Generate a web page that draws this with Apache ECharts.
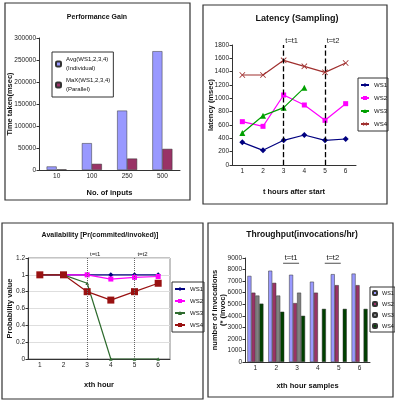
<!DOCTYPE html>
<html>
<head>
<meta charset="utf-8">
<script src="https://cdn.jsdelivr.net/npm/echarts@6/dist/echarts.min.js"></script>
<style>
html, body { margin: 0; padding: 0; background: #fff; }
#chart { width: 395px; height: 401px; }
</style>
</head>
<body>
<div id="chart"></div>
<script>
// performance gain
const perfCats = ['10', '100', '250', '500'];
const perfAvg = [8000, 61000, 135000, 270000];
const perfMax = [1500, 14000, 26000, 48000];

// hours 1..6, used by the three other panels
const hours = ['1', '2', '3', '4', '5', '6'];

// latency (msec)
const latWS1 = [340, 220, 370, 450, 370, 390];
const latWS2 = [650, 580, 1050, 900, 670, 920];
const latWS3 = [480, 740, 860, 1160, null, null];
const latWS4 = [1350, 1350, 1570, 1480, 1390, 1530];

// availability
const availWS1 = [1, 1, 1, 1, 1, 1];
const availWS2 = [1, 1, 1, 0.95, 0.97, 0.98];
const availWS3 = [1, 1, 0.9, 0, 0, 0];
const availWS4 = [1, 1, 0.8, 0.7, 0.8, 0.9];

// throughput
const thrWS1 = [7450, 7900, 7550, 6950, 7600, 7650];
const thrWS2 = [6000, 6850, 5100, 6000, 6650, 6650];
const thrWS3 = [5750, 5750, 6000, null, null, null];
const thrWS4 = [5050, 4350, 4000, 4600, 4600, 4600];

const FONT = '"Liberation Sans", sans-serif';
const tickLabel = { fontSize: 6.5, color: '#222', fontFamily: FONT, margin: 3 };
const axLine = { lineStyle: { color: '#333', width: 1 } };
const axTick = { length: 2.5, lineStyle: { color: '#333' } };
const nameStyle = { fontSize: 7.5, fontWeight: 'bold', color: '#111', fontFamily: FONT };

const CROSS = 'path://M0,1L1,0L5,4L9,0L10,1L6,5L10,9L9,10L5,6L1,10L0,9L4,5Z';
const shortName = n => n.split(' ')[1];

function catAxis(gi, data, name, gap) {
  return {
    gridIndex: gi, type: 'category', data: data,
    name: name, nameLocation: 'middle', nameGap: gap, nameTextStyle: nameStyle,
    nameMoveOverlap: false,
    axisLine: axLine, axisTick: axTick, axisLabel: tickLabel
  };
}
function valAxis(gi, max, interval, name, gap, split) {
  return {
    gridIndex: gi, type: 'value', min: 0, max: max, interval: interval,
    name: name, nameLocation: 'middle', nameGap: gap, nameRotate: 90,
    nameMoveOverlap: false,
    nameTextStyle: Object.assign({}, nameStyle, { lineHeight: 8 }),
    axisLine: Object.assign({ show: true }, axLine), axisTick: Object.assign({ show: true }, axTick),
    axisLabel: Object.assign({ formatter: v => String(v) }, tickLabel),
    splitLine: { show: !!split, lineStyle: { color: '#dedede', width: 1 } }
  };
}
function legendBox(names, left, top, extra) {
  return Object.assign({
    data: names, orient: 'vertical', left: left, top: top,
    borderColor: '#333', borderWidth: 1, padding: [4, 1, 4, 2], itemGap: 7,
    itemWidth: 8, itemHeight: 5, formatter: shortName,
    textStyle: { fontSize: 6, color: '#111', fontFamily: FONT }
  }, extra || {});
}
function lineSeries(name, data, gi, color, symbol, size, extra) {
  return Object.assign({
    type: 'line', name: name, data: data, xAxisIndex: gi, yAxisIndex: gi,
    symbol: symbol, symbolSize: size, lineStyle: { color: color, width: 1.2 },
    itemStyle: { color: color }, animation: false
  }, extra || {});
}
function barSeries(name, data, gi, color, width, extra) {
  return Object.assign({
    type: 'bar', name: name, data: data, xAxisIndex: gi, yAxisIndex: gi,
    barWidth: width, barGap: '0%',
    itemStyle: { color: color, borderColor: '#333', borderWidth: 0.5 }, animation: false
  }, extra || {});
}
function title(text, x, y, size) {
  return { type: 'text', x: x, y: y, style: { text: text, align: 'center', verticalAlign: 'middle',
    fontSize: size, fontWeight: 'bold', fill: '#111', fontFamily: FONT } };
}
function panel(x, y, w, h) {
  return { type: 'rect', shape: { x: x, y: y, width: w, height: h }, silent: true,
    style: { fill: 'none', stroke: '#333', lineWidth: 1.2 } };
}
function vLines(style, fontSize, offset) {
  return {
    symbol: 'none', silent: true, lineStyle: style,
    label: { show: true, position: 'end', offset: offset, fontSize: fontSize, color: '#222', fontFamily: FONT },
    data: [
      { xAxis: '3', label: { formatter: 't=t1' } },
      { xAxis: '5', label: { formatter: 't=t2' } }
    ]
  };
}

const chart = echarts.init(document.getElementById('chart'));
chart.setOption({
  animation: false,
  textStyle: { fontFamily: FONT },
  graphic: [
    panel(5, 3, 185, 197),
    panel(203, 5, 184, 199),
    panel(2, 223, 201, 176),
    panel(208, 223, 185, 174),
    title('Performance Gain', 97, 17, 7),
    title('Latency (Sampling)', 297, 19, 9),
    title('Availability [Pr(commited/invoked)]', 100, 235, 7),
    title('Throughput(invocations/hr)', 302, 235, 8.5)
  ],
  grid: [
    { left: 39, top: 38, width: 141, height: 132 },
    { left: 232, top: 45, width: 124, height: 120 },
    { left: 28, top: 258, width: 142, height: 101, show: true, borderColor: '#888', borderWidth: 1 },
    { left: 245, top: 258, width: 125, height: 104 }
  ],
  xAxis: [
    catAxis(0, perfCats, 'No. of inputs', 19),
    catAxis(1, hours, 't hours after start', 23),
    catAxis(2, hours, 'xth hour', 22),
    catAxis(3, hours, 'xth hour samples', 20)
  ],
  yAxis: [
    valAxis(0, 300000, 50000, 'Time taken(msec)', 25),
    valAxis(1, 1800, 200, 'latency (msec)', 17),
    valAxis(2, 1.2, 0.2, 'Probability value', 14, true),
    valAxis(3, 9000, 1000, 'number of invocations\n(* (invoc)', 18)
  ],
  legend: [
    {
      data: ['Avg(WS1,2,3,4)', 'MaX(WS1,2,3,4)'], orient: 'vertical', left: 52, top: 52,
      borderColor: '#333', borderWidth: 1, padding: [3, 3, 3, 3], itemGap: 3,
      itemWidth: 5, itemHeight: 5,
      formatter: n => n + (n.startsWith('Avg') ? '\n(Individual)' : '\n(Parallel)'),
      textStyle: { fontSize: 6, lineHeight: 9, color: '#111', fontFamily: FONT }
    },
    legendBox(['lat WS1', 'lat WS2', 'lat WS3', 'lat WS4'], 358, 78),
    legendBox(['av WS1', 'av WS2', 'av WS3', 'av WS4'], 172, 282, { itemWidth: 10, itemGap: 6 }),
    legendBox(['thr WS1', 'thr WS2', 'thr WS3', 'thr WS4'], 370, 287,
      { itemWidth: 4, itemHeight: 4, itemGap: 5, padding: [3, 1, 3, 2],
        textStyle: { fontSize: 5.5, color: '#111', fontFamily: FONT } })
  ],
  series: [
    barSeries('Avg(WS1,2,3,4)', perfAvg, 0, '#9999FF', 10),
    barSeries('MaX(WS1,2,3,4)', perfMax, 0, '#993366', 10),

    lineSeries('lat WS1', latWS1, 1, '#000080', 'diamond', 6, {
      markLine: vLines({ type: 'dashed', color: '#000', width: 1.3 }, 7.5, [8, 5])
    }),
    lineSeries('lat WS2', latWS2, 1, '#FF00FF', 'rect', 5),
    lineSeries('lat WS3', latWS3, 1, '#00A000', 'triangle', 6),
    lineSeries('lat WS4', latWS4, 1, '#A0302F', CROSS, 6),

    lineSeries('av WS1', availWS1, 2, '#000080', 'diamond', 5, {
      markLine: vLines({ type: 'dotted', color: '#666', width: 1 }, 6, [8, 4])
    }),
    lineSeries('av WS2', availWS2, 2, '#FF00FF', 'rect', 5),
    lineSeries('av WS3', availWS3, 2, '#2E6B2E', 'triangle', 3.5),
    lineSeries('av WS4', availWS4, 2, '#991111', 'rect', 7),

    barSeries('thr WS1', thrWS1, 3, '#9999FF', 4, {
      markPoint: {
        silent: true, symbol: 'rect', symbolSize: [16, 0.8], itemStyle: { color: '#222' },
        label: { show: true, position: 'top', distance: 1, formatter: '{b}', fontSize: 7.5, color: '#111' },
        data: [
          { name: 't=t1', coord: ['3', 8550] },
          { name: 't=t2', coord: ['5', 8550] }
        ]
      }
    }),
    barSeries('thr WS2', thrWS2, 3, '#993366', 4),
    barSeries('thr WS3', thrWS3, 3, '#808080', 4),
    barSeries('thr WS4', thrWS4, 3, '#004000', 4)
  ]
});
</script>
</body>
</html>
